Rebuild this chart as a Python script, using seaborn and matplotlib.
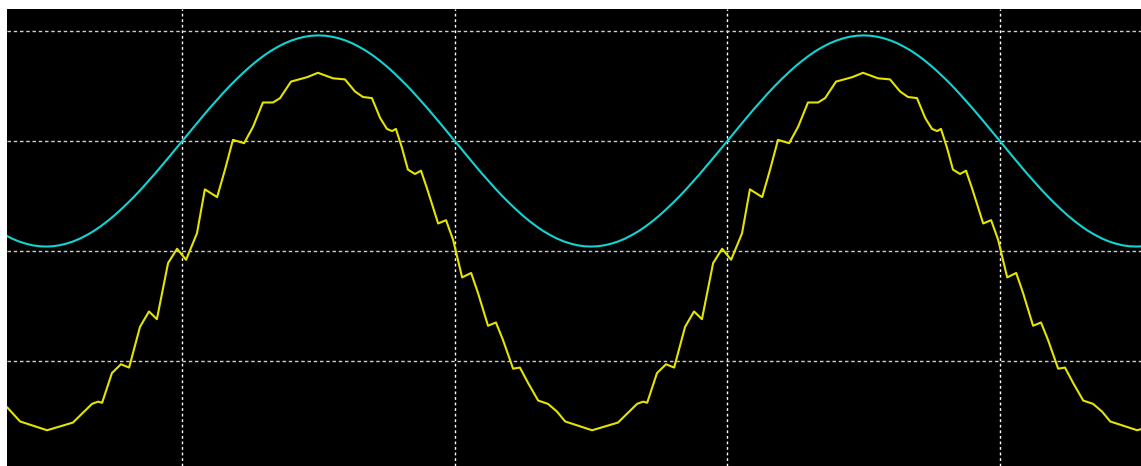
import matplotlib
matplotlib.use("Agg")
import matplotlib.pyplot as plt
import numpy as np
import pandas as pd
import seaborn as sns

# time axis in ms (20 ms period), vertical in divisions
cyan_t = np.arange(-1.5, 40.51, 0.25)
cyan_v = [
    0.145, 0.113, 0.087, 0.067, 0.052, 0.043,
    # 0 .. 10 ms
    0.040, 0.043, 0.052, 0.067, 0.087, 0.113, 0.145, 0.181, 0.223, 0.270,
    0.321, 0.377, 0.436, 0.498, 0.564, 0.633, 0.703, 0.776, 0.850, 0.925,
    1.000, 1.075, 1.150, 1.224, 1.297, 1.367, 1.436, 1.502, 1.564, 1.623,
    1.679, 1.730, 1.777, 1.819, 1.855, 1.887, 1.913, 1.933, 1.948, 1.957, 1.960,
    # 10.25 .. 20 ms
    1.957, 1.948, 1.933, 1.913, 1.887, 1.855, 1.819, 1.777, 1.730, 1.679,
    1.623, 1.564, 1.502, 1.436, 1.367, 1.297, 1.224, 1.150, 1.075, 1.000,
    0.925, 0.850, 0.776, 0.703, 0.633, 0.564, 0.498, 0.436, 0.377, 0.321,
    0.270, 0.223, 0.181, 0.145, 0.113, 0.087, 0.067, 0.052, 0.043, 0.040,
    # 20.25 .. 30 ms
    0.043, 0.052, 0.067, 0.087, 0.113, 0.145, 0.181, 0.223, 0.270, 0.321,
    0.377, 0.436, 0.498, 0.564, 0.633, 0.703, 0.776, 0.850, 0.925, 1.000,
    1.075, 1.150, 1.224, 1.297, 1.367, 1.436, 1.502, 1.564, 1.623, 1.679,
    1.730, 1.777, 1.819, 1.855, 1.887, 1.913, 1.933, 1.948, 1.957, 1.960,
    # 30.25 .. 40 ms
    1.957, 1.948, 1.933, 1.913, 1.887, 1.855, 1.819, 1.777, 1.730, 1.679,
    1.623, 1.564, 1.502, 1.436, 1.367, 1.297, 1.224, 1.150, 1.075, 1.000,
    0.925, 0.850, 0.776, 0.703, 0.633, 0.564, 0.498, 0.436, 0.377, 0.321,
    0.270, 0.223, 0.181, 0.145, 0.113, 0.087, 0.067, 0.052, 0.043, 0.040,
    0.043, 0.052,
]

yellow_t = [
    -1.43, -0.95, 0.04, 0.99, 1.69, 1.91, 2.06, 2.42, 2.75, 3.05,
    3.45, 3.78, 4.07, 4.48, 4.81, 5.14, 5.54, 5.83, 6.28, 6.57,
    6.86, 7.27, 7.60, 7.96, 8.33, 8.59, 8.99, 9.58, 9.98, 10.53,
    10.97, 11.34, 11.63, 11.96, 12.26, 12.51, 12.70, 12.84, 13.06, 13.28,
    13.54, 13.76, 13.98, 14.39, 14.68, 14.94, 15.27, 15.60, 15.85, 16.22,
    16.51, 16.77, 17.14, 17.39, 17.69, 18.06, 18.42, 18.75, 19.05, 20.04,
    20.99, 21.69, 21.91, 22.06, 22.42, 22.75, 23.05, 23.45, 23.78, 24.07,
    24.48, 24.81, 25.14, 25.54, 25.83, 26.28, 26.57, 26.86, 27.27, 27.60,
    27.96, 28.33, 28.59, 28.99, 29.58, 29.98, 30.53, 30.97, 31.34, 31.63,
    31.96, 32.26, 32.51, 32.70, 32.84, 33.06, 33.28, 33.54, 33.76, 33.98,
    34.39, 34.68, 34.94, 35.27, 35.60, 35.85, 36.22, 36.51, 36.77, 37.14,
    37.39, 37.69, 38.06, 38.42, 38.75, 39.05, 40.04, 40.99,
]
yellow_v = [
    -1.42, -1.55, -1.63, -1.56, -1.39, -1.37, -1.38, -1.11, -1.03, -1.06,
    -0.69, -0.55, -0.62, -0.11, 0.02, -0.08, 0.16, 0.56, 0.49, 0.74,
    1.01, 0.98, 1.13, 1.35, 1.35, 1.39, 1.54, 1.58, 1.62, 1.57,
    1.56, 1.45, 1.40, 1.39, 1.21, 1.11, 1.09, 1.11, 0.94, 0.74,
    0.70, 0.73, 0.57, 0.25, 0.28, 0.10, -0.24, -0.20, -0.38, -0.68,
    -0.65, -0.81, -1.07, -1.06, -1.20, -1.36, -1.39, -1.46, -1.55, -1.63,
    -1.56, -1.39, -1.37, -1.38, -1.11, -1.03, -1.06, -0.69, -0.55, -0.62,
    -0.11, 0.02, -0.08, 0.16, 0.56, 0.49, 0.74, 1.01, 0.98, 1.13,
    1.35, 1.35, 1.39, 1.54, 1.58, 1.62, 1.57, 1.56, 1.45, 1.40,
    1.39, 1.21, 1.11, 1.09, 1.11, 0.94, 0.74, 0.70, 0.73, 0.57,
    0.25, 0.28, 0.10, -0.24, -0.20, -0.38, -0.68, -0.65, -0.81, -1.07,
    -1.06, -1.20, -1.36, -1.39, -1.46, -1.55, -1.63, -1.56,
]

grid_t = [5, 15, 25, 35]
grid_v = [-1, 0, 1, 2]

cyan_df = pd.DataFrame({"t": cyan_t, "v": cyan_v})
yellow_df = pd.DataFrame({"t": yellow_t, "v": yellow_v})

sns.set_theme(style="dark")

fig = plt.figure(figsize=(11.41, 4.66), dpi=100, facecolor="white")
ax = fig.add_axes([7 / 1141, 0, 1134 / 1141, 457 / 466])
ax.set_facecolor("black")

for x in grid_t:
    ax.axvline(x, color="white", lw=1.0, ls=(0, (2, 2)), zorder=1)
for y in grid_v:
    ax.axhline(y, color="#d0d0d0", lw=1.0, ls=(0, (2.5, 2)), zorder=1)

sns.lineplot(data=cyan_df, x="t", y="v", color="#12d4d4", lw=1.5,
             estimator=None, ax=ax, zorder=3)
sns.lineplot(data=yellow_df, x="t", y="v", color="#e4e400", lw=1.5,
             estimator=None, ax=ax, zorder=3)

ax.set_xlim(-1.43, 40.18)
ax.set_ylim(-1.955, 2.2)
ax.set_xticks([])
ax.set_yticks([])
ax.set_xlabel("")
ax.set_ylabel("")
for s in ax.spines.values():
    s.set_visible(False)

fig.savefig("out.png", dpi=100, facecolor="white")
